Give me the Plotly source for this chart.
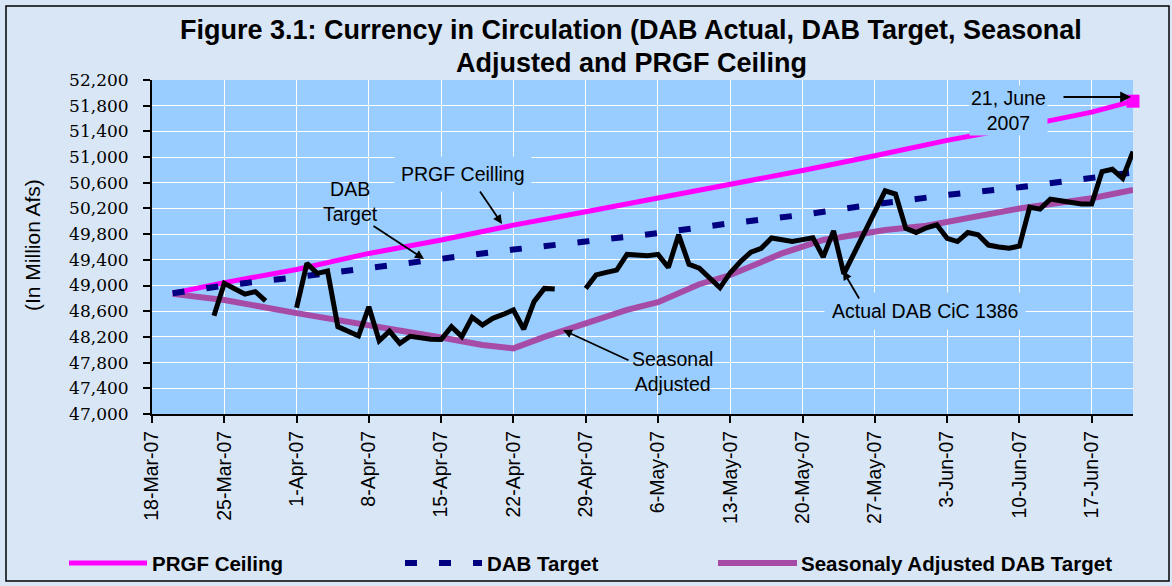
import plotly.graph_objects as go

# ---------------- data ----------------
tick_dates = ["2007-03-18", "2007-03-25", "2007-04-01", "2007-04-08", "2007-04-15",
              "2007-04-22", "2007-04-29", "2007-05-06", "2007-05-13", "2007-05-20",
              "2007-05-27", "2007-06-03", "2007-06-10", "2007-06-17"]
tick_labels = ["18-Mar-07", "25-Mar-07", "1-Apr-07", "8-Apr-07", "15-Apr-07",
               "22-Apr-07", "29-Apr-07", "6-May-07", "13-May-07", "20-May-07",
               "27-May-07", "3-Jun-07", "10-Jun-07", "17-Jun-07"]
y_ticks = [47000, 47400, 47800, 48200, 48600, 49000, 49400, 49800,
           50200, 50600, 51000, 51400, 51800, 52200]

prgf_dates = ["2007-03-20", "2007-03-25", "2007-04-01", "2007-04-08", "2007-04-15",
              "2007-04-22", "2007-04-29", "2007-05-06", "2007-05-13", "2007-05-20",
              "2007-05-27", "2007-06-03", "2007-06-10", "2007-06-17", "2007-06-21"]
prgf_vals = [48880, 49045, 49250, 49500, 49710, 49940, 50150, 50360, 50580, 50790,
             51020, 51260, 51470, 51700, 51870]

target_dates = prgf_dates
target_vals = [48880, 49000, 49130, 49280, 49415, 49560, 49685, 49815, 49970, 50100,
               50265, 50410, 50530, 50690, 50760]

seas_dates = ["2007-03-20", "2007-03-25", "2007-04-01", "2007-04-08", "2007-04-15",
              "2007-04-19", "2007-04-22", "2007-04-25", "2007-04-29", "2007-05-03",
              "2007-05-06", "2007-05-10", "2007-05-13", "2007-05-18", "2007-05-22",
              "2007-05-25", "2007-05-28", "2007-06-01", "2007-06-03", "2007-06-10",
              "2007-06-17", "2007-06-21"]
seas_vals = [48870, 48775, 48570, 48390, 48190, 48075, 48022, 48200, 48410, 48620,
             48740, 49020, 49164, 49500, 49709, 49787, 49865, 49930, 49990, 50200,
             50360, 50490]

actual_dates = [
    "2007-03-24", "2007-03-25", "2007-03-26", "2007-03-27", "2007-03-28", "2007-03-29",
    "2007-03-30", "2007-03-31", "2007-04-01", "2007-04-02", "2007-04-03", "2007-04-04",
    "2007-04-05", "2007-04-06", "2007-04-07", "2007-04-08", "2007-04-09", "2007-04-10",
    "2007-04-11", "2007-04-12", "2007-04-13", "2007-04-14", "2007-04-15", "2007-04-16",
    "2007-04-17", "2007-04-18", "2007-04-19", "2007-04-20", "2007-04-21", "2007-04-22",
    "2007-04-23", "2007-04-24", "2007-04-25", "2007-04-26", "2007-04-27", "2007-04-28",
    "2007-04-29", "2007-04-30", "2007-05-01", "2007-05-02", "2007-05-03", "2007-05-04",
    "2007-05-05", "2007-05-06", "2007-05-07", "2007-05-08", "2007-05-09", "2007-05-10",
    "2007-05-11", "2007-05-12", "2007-05-13", "2007-05-14", "2007-05-15", "2007-05-16",
    "2007-05-17", "2007-05-18", "2007-05-19", "2007-05-20", "2007-05-21", "2007-05-22",
    "2007-05-23", "2007-05-24", "2007-05-25", "2007-05-26", "2007-05-27", "2007-05-28",
    "2007-05-29", "2007-05-30", "2007-05-31", "2007-06-01", "2007-06-02", "2007-06-03",
    "2007-06-04", "2007-06-05", "2007-06-06", "2007-06-07", "2007-06-08", "2007-06-09",
    "2007-06-10", "2007-06-11", "2007-06-12", "2007-06-13", "2007-06-14", "2007-06-15",
    "2007-06-16", "2007-06-17", "2007-06-18", "2007-06-19", "2007-06-20", "2007-06-21"]
actual_vals = [
    48530, 49035, 48950, 48865, 48905, 48760,
    None, None, 48655, 49345, 49190, 49225,
    48360, 48290, 48215, 48670, 48140, 48290,
    48100, 48210, 48185, 48165, 48160, 48360,
    48205, 48505, 48385, 48490, 48550, 48620,
    48320, 48750, 48955, 48945, None, None,
    48955, 49165, 49205, 49240, 49485, 49475,
    49465, 49485, 49280, 49790, 49330, 49270,
    49120, 48965, 49200, 49375, 49520, 49580,
    49740, 49710, 49685, 49715, 49745, 49445,
    49850, 49180, 49510, 49830, 50150, 50475,
    50425, 49890, 49825, 49900, 49945, 49735,
    49685, 49825, 49790, 49630, 49600, 49580,
    49615, 50220, 50190, 50345, 50320, 50295,
    50270, 50270, 50775, 50810, 50670, 51085]

# ---------------- styling helpers ----------------
W, H = 1172, 586
L, R, T, B = 152, 1133, 80, 414
PW, PH = R - L, B - T


def px(x):
    return (x - L) / PW


def py(y):
    return (B - y) / PH


SANS = "Liberation Sans, Arial, sans-serif"
SERIF = "DejaVu Serif, Liberation Serif, serif"
PLOT_BG = "#99CCFF"
MAGENTA = "#FF00FF"
NAVY = "#000080"
PURPLE = "#A64CA6"
ANN_SIZE = 19.5
LEG_SIZE = 20.5

fig = go.Figure()
fig.add_trace(go.Scatter(x=seas_dates, y=seas_vals, mode="lines",
                         line=dict(color=PURPLE, width=6), name="Seasonaly Adjusted DAB Target"))
fig.add_trace(go.Scatter(x=prgf_dates, y=prgf_vals, mode="lines",
                         line=dict(color=MAGENTA, width=5), name="PRGF Ceiling"))
fig.add_trace(go.Scatter(x=[prgf_dates[-1]], y=[prgf_vals[-1]], mode="markers",
                         cliponaxis=False,
                         marker=dict(color=MAGENTA, symbol="square", size=13), name="end"))
fig.add_trace(go.Scatter(x=target_dates, y=target_vals, mode="lines",
                         line=dict(color=NAVY, width=6, dash="12px,22px"), name="DAB Target"))
fig.add_trace(go.Scatter(x=actual_dates, y=actual_vals, mode="lines", connectgaps=False,
                         line=dict(color="black", width=5), name="Actual DAB CiC 1386"))

annotations = []
shapes = []

# Titles
annotations.append(dict(xref="paper", yref="paper", x=px(631), y=py(30),
                        text="Figure 3.1: Currency in Circulation (DAB Actual, DAB Target, Seasonal",
                        showarrow=False, xanchor="center", yanchor="middle",
                        font=dict(family=SANS, size=27, color="black", weight="bold")))
annotations.append(dict(xref="paper", yref="paper", x=px(631), y=py(63),
                        text="Adjusted and PRGF Ceiling",
                        showarrow=False, xanchor="center", yanchor="middle",
                        font=dict(family=SANS, size=27, color="black", weight="bold")))
# Y title
annotations.append(dict(xref="paper", yref="paper", x=px(33), y=py(245),
                        text="(In Million Afs)", textangle=-90, showarrow=False,
                        xanchor="center", yanchor="middle",
                        font=dict(family=SANS, size=21, color="black")))


def label(cx, cy, text, bg=True, pad=4):
    d = dict(xref="paper", yref="paper", x=px(cx), y=py(cy), text=text, showarrow=False,
             xanchor="center", yanchor="middle", align="center", borderpad=pad,
             font=dict(family=SANS, size=ANN_SIZE, color="black"))
    if bg:
        d["bgcolor"] = PLOT_BG
    annotations.append(d)


def arrow(hx, hy, tx, ty, size=1.0):
    annotations.append(dict(xref="paper", yref="paper", x=px(hx), y=py(hy), text="",
                            showarrow=True, ax=tx - hx, ay=ty - hy, arrowhead=2,
                            arrowsize=size, arrowwidth=1.8, arrowcolor="black",
                            standoff=0, startstandoff=0))


label(1008, 110, "21, June<br>2007", pad=1)
arrow(1131, 97, 1062, 97, 1.2)
label(463, 174, "PRGF Ceilling", pad=6)
arrow(502, 224, 479, 190)
label(350, 201, "DAB<br>Target", bg=False)
arrow(424, 259, 372, 225)
label(672, 371, "Seasonal<br>Adjusted", bg=False)
arrow(563, 330, 630, 361)
label(925, 311, "Actual DAB CiC 1386", pad=7)
arrow(843, 271, 860, 300)

# Custom legend
ly = 563
shapes.append(dict(type="line", xref="paper", yref="paper", x0=px(69), x1=px(147),
                   y0=py(ly), y1=py(ly), line=dict(color=MAGENTA, width=5)))
annotations.append(dict(xref="paper", yref="paper", x=px(150), y=py(ly), text="PRGF Ceiling",
                        showarrow=False, xanchor="left", yanchor="middle",
                        font=dict(family=SANS, size=LEG_SIZE, color="black", weight="bold")))
shapes.append(dict(type="line", xref="paper", yref="paper", x0=px(405), x1=px(482),
                   y0=py(ly), y1=py(ly), line=dict(color=NAVY, width=6, dash="12px,22px")))
annotations.append(dict(xref="paper", yref="paper", x=px(485), y=py(ly), text="DAB Target",
                        showarrow=False, xanchor="left", yanchor="middle",
                        font=dict(family=SANS, size=LEG_SIZE, color="black", weight="bold")))
shapes.append(dict(type="line", xref="paper", yref="paper", x0=px(718), x1=px(797),
                   y0=py(ly), y1=py(ly), line=dict(color=PURPLE, width=6)))
annotations.append(dict(xref="paper", yref="paper", x=px(799), y=py(ly),
                        text="Seasonaly Adjusted DAB Target",
                        showarrow=False, xanchor="left", yanchor="middle",
                        font=dict(family=SANS, size=LEG_SIZE, color="black", weight="bold")))

# Outer border
shapes.append(dict(type="rect", xref="paper", yref="paper", x0=px(6), x1=px(1169),
                   y0=py(581), y1=py(6), line=dict(color="black", width=1.5)))

fig.update_layout(
    width=W, height=H,
    margin=dict(l=L, r=W - R, t=T, b=H - B, pad=0),
    paper_bgcolor="#D9E6F5",
    plot_bgcolor=PLOT_BG,
    showlegend=False,
    annotations=annotations,
    shapes=shapes,
    xaxis=dict(type="date", range=["2007-03-18", "2007-06-21"],
               tickmode="array", tickvals=tick_dates, ticktext=tick_labels,
               tickangle=-90, ticks="outside", ticklen=7, tickcolor="black", tickwidth=1.5,
               showline=True, linecolor="black", linewidth=2,
               showgrid=True, gridcolor="white", gridwidth=1, zeroline=False,
               tickfont=dict(family=SANS, size=19.5, color="black"), automargin=False),
    yaxis=dict(range=[47000, 52200], tickmode="array", tickvals=y_ticks,
               tickformat=",", ticks="outside", ticklen=7, tickcolor="black", tickwidth=1.5,
               showline=True, linecolor="black", linewidth=2,
               showgrid=True, gridcolor="white", gridwidth=1, zeroline=False,
               ticklabelstandoff=11,
               tickfont=dict(family=SERIF, size=17, color="black"), automargin=False),
)

fig.write_html("out.html", config={"displayModeBar": False},
               post_script="document.body.style.margin='0px';")
